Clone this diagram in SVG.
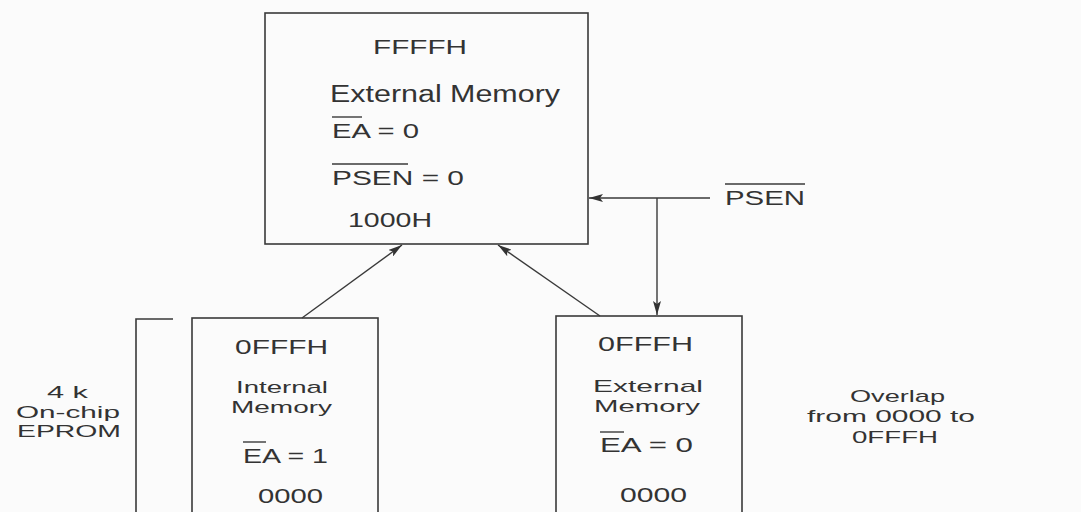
<svg xmlns="http://www.w3.org/2000/svg" width="1081" height="512" viewBox="0 0 1081 512">
<defs>
<style>
.t{font-family:"Liberation Sans",Arial,sans-serif;font-size:20px;fill:#333}
.s{font-size:17px}
.b{fill:none;stroke:#3a3a3a;stroke-width:1.6}
.c{fill:none;stroke:#3a3a3a;stroke-width:1.4}
.o{stroke:#3a3a3a;stroke-width:1.4}
</style>
<marker id="ah" viewBox="0 0 14 8" refX="14" refY="4" markerWidth="14" markerHeight="8" markerUnits="userSpaceOnUse" orient="auto">
<path d="M0,0 L14,4 L0,8 L3,4 Z" fill="#333"/>
</marker>
</defs>
<rect width="1081" height="512" fill="#fbfbfb"/>
<g id="ext-top">
<rect class="b" x="265" y="13" width="323" height="231"/>
<text class="t" x="373" y="54" textLength="94" lengthAdjust="spacingAndGlyphs" style="font-size:21px">FFFFH</text>
<text class="t" x="330" y="102" textLength="230" lengthAdjust="spacingAndGlyphs" style="font-size:23px">External Memory</text>
<text class="t" x="332" y="138" textLength="87" lengthAdjust="spacingAndGlyphs">EA = 0</text>
<line class="o" x1="332" y1="117" x2="362" y2="117"/>
<text class="t" x="332" y="185" textLength="132" lengthAdjust="spacingAndGlyphs">PSEN = 0</text>
<line class="o" x1="332" y1="164" x2="408" y2="164"/>
<text class="t" x="348" y="227" textLength="84" lengthAdjust="spacingAndGlyphs" style="font-size:21px">1000H</text>
</g>
<g id="eprom">
<path class="b" d="M173,319 H136 V530"/>
<text class="t s" x="47" y="398" textLength="41" lengthAdjust="spacingAndGlyphs">4 k</text>
<text class="t s" x="16" y="418" textLength="104" lengthAdjust="spacingAndGlyphs">On-chip</text>
<text class="t s" x="17" y="437" textLength="104" lengthAdjust="spacingAndGlyphs">EPROM</text>
</g>
<g id="int-mem">
<rect class="b" x="192" y="318" width="186" height="220"/>
<text class="t" x="235" y="354" textLength="93" lengthAdjust="spacingAndGlyphs">0FFFH</text>
<text class="t s" x="236" y="393" textLength="92" lengthAdjust="spacingAndGlyphs">Internal</text>
<text class="t s" x="231" y="413" textLength="101" lengthAdjust="spacingAndGlyphs">Memory</text>
<text class="t" x="243" y="463" textLength="85" lengthAdjust="spacingAndGlyphs">EA = 1</text>
<line class="o" x1="243" y1="442" x2="266" y2="442"/>
<text class="t" x="258" y="503" textLength="65" lengthAdjust="spacingAndGlyphs">0000</text>
</g>
<g id="ext-low">
<rect class="b" x="556" y="316" width="186" height="220"/>
<text class="t" x="598" y="351" textLength="95" lengthAdjust="spacingAndGlyphs">0FFFH</text>
<text class="t s" x="593" y="392" textLength="110" lengthAdjust="spacingAndGlyphs">External</text>
<text class="t s" x="594" y="412" textLength="106" lengthAdjust="spacingAndGlyphs">Memory</text>
<text class="t" x="600" y="452" textLength="93" lengthAdjust="spacingAndGlyphs">EA = 0</text>
<line class="o" x1="600" y1="432" x2="624" y2="432"/>
<text class="t" x="620" y="502" textLength="67" lengthAdjust="spacingAndGlyphs">0000</text>
</g>
<g id="overlap">
<text class="t s" x="850" y="402" textLength="95" lengthAdjust="spacingAndGlyphs">Overlap</text>
<text class="t s" x="807" y="422" textLength="168" lengthAdjust="spacingAndGlyphs">from 0000 to</text>
<text class="t s" x="852" y="443" textLength="86" lengthAdjust="spacingAndGlyphs">0FFFH</text>
</g>
<g id="psen">
<text class="t" x="725" y="205" textLength="80" lengthAdjust="spacingAndGlyphs">PSEN</text>
<line class="o" x1="725" y1="184" x2="805" y2="184"/>
</g>
<g id="connectors">
<line class="c" x1="302" y1="318" x2="402" y2="245" marker-end="url(#ah)"/>
<line class="c" x1="600" y1="316" x2="498" y2="245" marker-end="url(#ah)"/>
<line class="c" x1="710" y1="198" x2="589" y2="198" marker-end="url(#ah)"/>
<line class="c" x1="657" y1="198" x2="657" y2="315" marker-end="url(#ah)"/>
</g>
</svg>
